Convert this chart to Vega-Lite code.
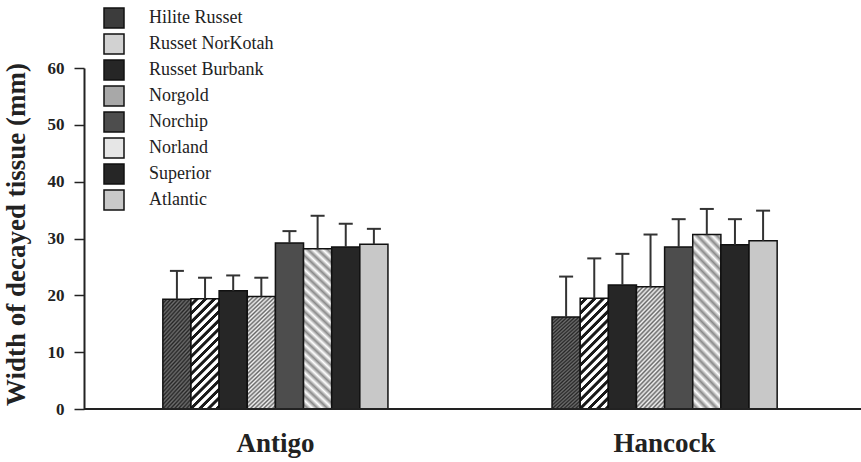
{
  "$schema": "https://vega.github.io/schema/vega-lite/v6.json",
  "width": 777,
  "height": 341,
  "autosize": "none",
  "padding": {"left": 84, "top": 68, "right": 0, "bottom": 53},
  "background": "white",
  "config": {
    "view": {"stroke": null},
    "font": "Liberation Serif",
    "legend": {
      "labelFont": "Liberation Serif", "labelFontSize": 18, "labelFontWeight": "normal", "labelColor": "#222",
      "symbolType": "square", "symbolSize": 400, "symbolStrokeColor": "#111", "symbolStrokeWidth": 1.5,
      "labelOffset": 24, "rowPadding": 0, "padding": 0, "labelLimit": 300
    }
  },
  "data": {
    "values": [
      {"location": "Antigo", "variety": "Hilite Russet", "mean": 19.3, "upper": 24.3},
      {"location": "Antigo", "variety": "Russet NorKotah", "mean": 19.4, "upper": 23.1},
      {"location": "Antigo", "variety": "Russet Burbank", "mean": 20.8, "upper": 23.5},
      {"location": "Antigo", "variety": "Norgold", "mean": 19.8, "upper": 23.1},
      {"location": "Antigo", "variety": "Norchip", "mean": 29.2, "upper": 31.3},
      {"location": "Antigo", "variety": "Norland", "mean": 28.2, "upper": 34.0},
      {"location": "Antigo", "variety": "Superior", "mean": 28.5, "upper": 32.6},
      {"location": "Antigo", "variety": "Atlantic", "mean": 29.0, "upper": 31.7},
      {"location": "Hancock", "variety": "Hilite Russet", "mean": 16.2, "upper": 23.3},
      {"location": "Hancock", "variety": "Russet NorKotah", "mean": 19.5, "upper": 26.5},
      {"location": "Hancock", "variety": "Russet Burbank", "mean": 21.8, "upper": 27.3},
      {"location": "Hancock", "variety": "Norgold", "mean": 21.5, "upper": 30.7},
      {"location": "Hancock", "variety": "Norchip", "mean": 28.5, "upper": 33.4},
      {"location": "Hancock", "variety": "Norland", "mean": 30.7, "upper": 35.2},
      {"location": "Hancock", "variety": "Superior", "mean": 28.9, "upper": 33.4},
      {"location": "Hancock", "variety": "Atlantic", "mean": 29.6, "upper": 34.9}
    ]
  },
  "layer": [
    {
      "mark": {"type": "bar", "stroke": "#111", "strokeWidth": 1.5, "opacity": 1},
      "encoding": {
        "x": {
          "field": "location", "type": "nominal", "sort": ["Antigo", "Hancock"],
          "scale": {"range": [1, 771], "paddingInner": 0.4216, "paddingOuter": 0.2},
          "axis": {
            "title": null, "domain": false, "ticks": false, "tickSize": 0, "labelAngle": 0,
            "labelFont": "Liberation Serif", "labelFontSize": 27, "labelFontWeight": "bold",
            "labelColor": "#222", "labelBaseline": "alphabetic", "labelPadding": 42
          }
        },
        "xOffset": {
          "field": "variety", "type": "nominal",
          "sort": ["Hilite Russet", "Russet NorKotah", "Russet Burbank", "Norgold", "Norchip", "Norland", "Superior", "Atlantic"],
          "scale": {"paddingInner": 0, "paddingOuter": 0}
        },
        "y": {
          "field": "mean", "type": "quantitative",
          "scale": {"domain": [0, 60], "nice": false},
          "title": "Width of decayed tissue (mm)",
          "axis": {
            "values": [0, 10, 20, 30, 40, 50, 60], "grid": false,
            "domainColor": "#222", "domainWidth": 2, "tickColor": "#222", "tickWidth": 1.5, "tickSize": 10,
            "labelFont": "Liberation Serif", "labelFontSize": 17, "labelFontWeight": "bold", "labelColor": "#222", "labelPadding": 10,
            "titleFont": "Liberation Serif", "titleFontSize": 27, "titleFontWeight": "bold", "titleColor": "#222", "titlePadding": 17,
            "titleY": 166
          }
        },
        "fill": {
          "field": "variety", "type": "nominal",
          "scale": {
            "domain": ["Hilite Russet", "Russet NorKotah", "Russet Burbank", "Norgold", "Norchip", "Norland", "Superior", "Atlantic"],
            "range": ["#3c3c3c", "#d2d2d2", "#262626", "#a8a8a8", "#4d4d4d", "#e6e6e6", "#262626", "#c8c8c8"]
          },
          "condition": [
            {
              "test": "datum.variety === 'Hilite Russet'",
              "value": {
                "gradient": "linear", "x1": 0, "y1": 0, "x2": 0.332, "y2": 1.187,
                "stops": [
                  {"offset": 0, "color": "#262626"}, {"offset": 0.015, "color": "#6e6e6e"}, {"offset": 0.03, "color": "#262626"}, {"offset": 0.045, "color": "#6e6e6e"},
                  {"offset": 0.06, "color": "#262626"}, {"offset": 0.075, "color": "#6e6e6e"}, {"offset": 0.09, "color": "#262626"}, {"offset": 0.105, "color": "#6e6e6e"},
                  {"offset": 0.12, "color": "#262626"}, {"offset": 0.135, "color": "#6e6e6e"}, {"offset": 0.15, "color": "#262626"}, {"offset": 0.165, "color": "#6e6e6e"},
                  {"offset": 0.18, "color": "#262626"}, {"offset": 0.195, "color": "#6e6e6e"}, {"offset": 0.21, "color": "#262626"}, {"offset": 0.225, "color": "#6e6e6e"},
                  {"offset": 0.24, "color": "#262626"}, {"offset": 0.255, "color": "#6e6e6e"}, {"offset": 0.27, "color": "#262626"}, {"offset": 0.285, "color": "#6e6e6e"},
                  {"offset": 0.3, "color": "#262626"}, {"offset": 0.315, "color": "#6e6e6e"}, {"offset": 0.33, "color": "#262626"}, {"offset": 0.345, "color": "#6e6e6e"},
                  {"offset": 0.36, "color": "#262626"}, {"offset": 0.375, "color": "#6e6e6e"}, {"offset": 0.39, "color": "#262626"}, {"offset": 0.405, "color": "#6e6e6e"},
                  {"offset": 0.42, "color": "#262626"}, {"offset": 0.435, "color": "#6e6e6e"}, {"offset": 0.45, "color": "#262626"}, {"offset": 0.465, "color": "#6e6e6e"},
                  {"offset": 0.48, "color": "#262626"}, {"offset": 0.495, "color": "#6e6e6e"}, {"offset": 0.51, "color": "#262626"}, {"offset": 0.525, "color": "#6e6e6e"},
                  {"offset": 0.54, "color": "#262626"}, {"offset": 0.555, "color": "#6e6e6e"}, {"offset": 0.57, "color": "#262626"}, {"offset": 0.585, "color": "#6e6e6e"},
                  {"offset": 0.6, "color": "#262626"}, {"offset": 0.615, "color": "#6e6e6e"}, {"offset": 0.63, "color": "#262626"}, {"offset": 0.645, "color": "#6e6e6e"},
                  {"offset": 0.66, "color": "#262626"}, {"offset": 0.675, "color": "#6e6e6e"}, {"offset": 0.69, "color": "#262626"}, {"offset": 0.705, "color": "#6e6e6e"},
                  {"offset": 0.72, "color": "#262626"}, {"offset": 0.735, "color": "#6e6e6e"}, {"offset": 0.75, "color": "#262626"}, {"offset": 0.765, "color": "#6e6e6e"},
                  {"offset": 0.78, "color": "#262626"}, {"offset": 0.795, "color": "#6e6e6e"}, {"offset": 0.81, "color": "#262626"}, {"offset": 0.825, "color": "#6e6e6e"},
                  {"offset": 0.84, "color": "#262626"}, {"offset": 0.855, "color": "#6e6e6e"}, {"offset": 0.87, "color": "#262626"}, {"offset": 0.885, "color": "#6e6e6e"},
                  {"offset": 0.9, "color": "#262626"}, {"offset": 0.915, "color": "#6e6e6e"}, {"offset": 0.93, "color": "#262626"}, {"offset": 0.945, "color": "#6e6e6e"},
                  {"offset": 0.96, "color": "#262626"}, {"offset": 0.975, "color": "#6e6e6e"}, {"offset": 0.99, "color": "#262626"}
                ]
              }
            },
            {
              "test": "datum.variety === 'Russet NorKotah'",
              "value": {
                "gradient": "linear", "x1": 0, "y1": 0, "x2": 0.3, "y2": 1.178,
                "stops": [
                  {"offset": 0, "color": "#ffffff"}, {"offset": 0.027, "color": "#ffffff"}, {"offset": 0.033, "color": "#1a1a1a"}, {"offset": 0.0575, "color": "#1a1a1a"},
                  {"offset": 0.0625, "color": "#ffffff"}, {"offset": 0.0895, "color": "#ffffff"}, {"offset": 0.0955, "color": "#1a1a1a"}, {"offset": 0.12, "color": "#1a1a1a"},
                  {"offset": 0.125, "color": "#ffffff"}, {"offset": 0.152, "color": "#ffffff"}, {"offset": 0.158, "color": "#1a1a1a"}, {"offset": 0.1825, "color": "#1a1a1a"},
                  {"offset": 0.1875, "color": "#ffffff"}, {"offset": 0.2145, "color": "#ffffff"}, {"offset": 0.2205, "color": "#1a1a1a"}, {"offset": 0.245, "color": "#1a1a1a"},
                  {"offset": 0.25, "color": "#ffffff"}, {"offset": 0.277, "color": "#ffffff"}, {"offset": 0.283, "color": "#1a1a1a"}, {"offset": 0.3075, "color": "#1a1a1a"},
                  {"offset": 0.3125, "color": "#ffffff"}, {"offset": 0.3395, "color": "#ffffff"}, {"offset": 0.3455, "color": "#1a1a1a"}, {"offset": 0.37, "color": "#1a1a1a"},
                  {"offset": 0.375, "color": "#ffffff"}, {"offset": 0.402, "color": "#ffffff"}, {"offset": 0.408, "color": "#1a1a1a"}, {"offset": 0.4325, "color": "#1a1a1a"},
                  {"offset": 0.4375, "color": "#ffffff"}, {"offset": 0.4645, "color": "#ffffff"}, {"offset": 0.4705, "color": "#1a1a1a"}, {"offset": 0.495, "color": "#1a1a1a"},
                  {"offset": 0.5, "color": "#ffffff"}, {"offset": 0.527, "color": "#ffffff"}, {"offset": 0.533, "color": "#1a1a1a"}, {"offset": 0.5575, "color": "#1a1a1a"},
                  {"offset": 0.5625, "color": "#ffffff"}, {"offset": 0.5895, "color": "#ffffff"}, {"offset": 0.5955, "color": "#1a1a1a"}, {"offset": 0.62, "color": "#1a1a1a"},
                  {"offset": 0.625, "color": "#ffffff"}, {"offset": 0.652, "color": "#ffffff"}, {"offset": 0.658, "color": "#1a1a1a"}, {"offset": 0.6825, "color": "#1a1a1a"},
                  {"offset": 0.6875, "color": "#ffffff"}, {"offset": 0.7145, "color": "#ffffff"}, {"offset": 0.7205, "color": "#1a1a1a"}, {"offset": 0.745, "color": "#1a1a1a"},
                  {"offset": 0.75, "color": "#ffffff"}, {"offset": 0.777, "color": "#ffffff"}, {"offset": 0.783, "color": "#1a1a1a"}, {"offset": 0.8075, "color": "#1a1a1a"},
                  {"offset": 0.8125, "color": "#ffffff"}, {"offset": 0.8395, "color": "#ffffff"}, {"offset": 0.8455, "color": "#1a1a1a"}, {"offset": 0.87, "color": "#1a1a1a"},
                  {"offset": 0.875, "color": "#ffffff"}, {"offset": 0.902, "color": "#ffffff"}, {"offset": 0.908, "color": "#1a1a1a"}, {"offset": 0.9325, "color": "#1a1a1a"},
                  {"offset": 0.9375, "color": "#ffffff"}, {"offset": 0.9645, "color": "#ffffff"}, {"offset": 0.9705, "color": "#1a1a1a"}, {"offset": 0.995, "color": "#1a1a1a"},
                  {"offset": 1, "color": "#ffffff"}
                ]
              }
            },
            {
              "test": "datum.variety === 'Norgold'",
              "value": {
                "gradient": "linear", "x1": 0, "y1": 0, "x2": 0.28, "y2": 1.172,
                "stops": [
                  {"offset": 0, "color": "#f4f4f4"}, {"offset": 0.015, "color": "#666666"}, {"offset": 0.03, "color": "#f4f4f4"}, {"offset": 0.045, "color": "#666666"},
                  {"offset": 0.06, "color": "#f4f4f4"}, {"offset": 0.075, "color": "#666666"}, {"offset": 0.09, "color": "#f4f4f4"}, {"offset": 0.105, "color": "#666666"},
                  {"offset": 0.12, "color": "#f4f4f4"}, {"offset": 0.135, "color": "#666666"}, {"offset": 0.15, "color": "#f4f4f4"}, {"offset": 0.165, "color": "#666666"},
                  {"offset": 0.18, "color": "#f4f4f4"}, {"offset": 0.195, "color": "#666666"}, {"offset": 0.21, "color": "#f4f4f4"}, {"offset": 0.225, "color": "#666666"},
                  {"offset": 0.24, "color": "#f4f4f4"}, {"offset": 0.255, "color": "#666666"}, {"offset": 0.27, "color": "#f4f4f4"}, {"offset": 0.285, "color": "#666666"},
                  {"offset": 0.3, "color": "#f4f4f4"}, {"offset": 0.315, "color": "#666666"}, {"offset": 0.33, "color": "#f4f4f4"}, {"offset": 0.345, "color": "#666666"},
                  {"offset": 0.36, "color": "#f4f4f4"}, {"offset": 0.375, "color": "#666666"}, {"offset": 0.39, "color": "#f4f4f4"}, {"offset": 0.405, "color": "#666666"},
                  {"offset": 0.42, "color": "#f4f4f4"}, {"offset": 0.435, "color": "#666666"}, {"offset": 0.45, "color": "#f4f4f4"}, {"offset": 0.465, "color": "#666666"},
                  {"offset": 0.48, "color": "#f4f4f4"}, {"offset": 0.495, "color": "#666666"}, {"offset": 0.51, "color": "#f4f4f4"}, {"offset": 0.525, "color": "#666666"},
                  {"offset": 0.54, "color": "#f4f4f4"}, {"offset": 0.555, "color": "#666666"}, {"offset": 0.57, "color": "#f4f4f4"}, {"offset": 0.585, "color": "#666666"},
                  {"offset": 0.6, "color": "#f4f4f4"}, {"offset": 0.615, "color": "#666666"}, {"offset": 0.63, "color": "#f4f4f4"}, {"offset": 0.645, "color": "#666666"},
                  {"offset": 0.66, "color": "#f4f4f4"}, {"offset": 0.675, "color": "#666666"}, {"offset": 0.69, "color": "#f4f4f4"}, {"offset": 0.705, "color": "#666666"},
                  {"offset": 0.72, "color": "#f4f4f4"}, {"offset": 0.735, "color": "#666666"}, {"offset": 0.75, "color": "#f4f4f4"}, {"offset": 0.765, "color": "#666666"},
                  {"offset": 0.78, "color": "#f4f4f4"}, {"offset": 0.795, "color": "#666666"}, {"offset": 0.81, "color": "#f4f4f4"}, {"offset": 0.825, "color": "#666666"},
                  {"offset": 0.84, "color": "#f4f4f4"}, {"offset": 0.855, "color": "#666666"}, {"offset": 0.87, "color": "#f4f4f4"}, {"offset": 0.885, "color": "#666666"},
                  {"offset": 0.9, "color": "#f4f4f4"}, {"offset": 0.915, "color": "#666666"}, {"offset": 0.93, "color": "#f4f4f4"}, {"offset": 0.945, "color": "#666666"},
                  {"offset": 0.96, "color": "#f4f4f4"}, {"offset": 0.975, "color": "#666666"}, {"offset": 0.99, "color": "#f4f4f4"}
                ]
              }
            },
            {
              "test": "datum.variety === 'Norland'",
              "value": {
                "gradient": "linear", "x1": 0, "y1": 1, "x2": 0.189, "y2": -0.135,
                "stops": [
                  {"offset": 0, "color": "#ffffff"}, {"offset": 0.025, "color": "#8a8a8a"}, {"offset": 0.05, "color": "#ffffff"}, {"offset": 0.075, "color": "#8a8a8a"},
                  {"offset": 0.1, "color": "#ffffff"}, {"offset": 0.125, "color": "#8a8a8a"}, {"offset": 0.15, "color": "#ffffff"}, {"offset": 0.175, "color": "#8a8a8a"},
                  {"offset": 0.2, "color": "#ffffff"}, {"offset": 0.225, "color": "#8a8a8a"}, {"offset": 0.25, "color": "#ffffff"}, {"offset": 0.275, "color": "#8a8a8a"},
                  {"offset": 0.3, "color": "#ffffff"}, {"offset": 0.325, "color": "#8a8a8a"}, {"offset": 0.35, "color": "#ffffff"}, {"offset": 0.375, "color": "#8a8a8a"},
                  {"offset": 0.4, "color": "#ffffff"}, {"offset": 0.425, "color": "#8a8a8a"}, {"offset": 0.45, "color": "#ffffff"}, {"offset": 0.475, "color": "#8a8a8a"},
                  {"offset": 0.5, "color": "#ffffff"}, {"offset": 0.525, "color": "#8a8a8a"}, {"offset": 0.55, "color": "#ffffff"}, {"offset": 0.575, "color": "#8a8a8a"},
                  {"offset": 0.6, "color": "#ffffff"}, {"offset": 0.625, "color": "#8a8a8a"}, {"offset": 0.65, "color": "#ffffff"}, {"offset": 0.675, "color": "#8a8a8a"},
                  {"offset": 0.7, "color": "#ffffff"}, {"offset": 0.725, "color": "#8a8a8a"}, {"offset": 0.75, "color": "#ffffff"}, {"offset": 0.775, "color": "#8a8a8a"},
                  {"offset": 0.8, "color": "#ffffff"}, {"offset": 0.825, "color": "#8a8a8a"}, {"offset": 0.85, "color": "#ffffff"}, {"offset": 0.875, "color": "#8a8a8a"},
                  {"offset": 0.9, "color": "#ffffff"}, {"offset": 0.925, "color": "#8a8a8a"}, {"offset": 0.95, "color": "#ffffff"}, {"offset": 0.975, "color": "#8a8a8a"},
                  {"offset": 1, "color": "#ffffff"}
                ]
              }
            }
          ],
          "legend": {
            "orient": "none", "legendX": 19, "legendY": -61, "title": null, "direction": "vertical",
            "symbolType": "square", "symbolSize": 400, "symbolStrokeColor": "#111", "symbolStrokeWidth": 1.5,
            "labelFont": "Liberation Serif", "labelFontSize": 18, "labelColor": "#222", "labelOffset": 24,
            "rowPadding": 0, "padding": 0, "labelLimit": 300,
            "encode": {
              "labels": {
                "font": {"value": "Liberation Serif"},
                "fontSize": {"value": 18}
              }
            }
          }
        }
      }
    },
    {
      "data": {"values": [{}]},
      "mark": {"type": "rule", "color": "#222", "strokeWidth": 2},
      "encoding": {"y": {"datum": 0, "type": "quantitative"}}
    },
    {
      "mark": {"type": "rule", "color": "#333", "strokeWidth": 2},
      "encoding": {
        "x": {"field": "location", "type": "nominal", "sort": ["Antigo", "Hancock"]},
        "xOffset": {"field": "variety", "type": "nominal", "sort": ["Hilite Russet", "Russet NorKotah", "Russet Burbank", "Norgold", "Norchip", "Norland", "Superior", "Atlantic"]},
        "y": {"field": "mean", "type": "quantitative"},
        "y2": {"field": "upper"}
      }
    },
    {
      "mark": {"type": "tick", "color": "#333", "size": 14, "thickness": 2, "opacity": 1},
      "encoding": {
        "x": {"field": "location", "type": "nominal", "sort": ["Antigo", "Hancock"]},
        "xOffset": {"field": "variety", "type": "nominal", "sort": ["Hilite Russet", "Russet NorKotah", "Russet Burbank", "Norgold", "Norchip", "Norland", "Superior", "Atlantic"]},
        "y": {"field": "upper", "type": "quantitative"}
      }
    }
  ]
}
